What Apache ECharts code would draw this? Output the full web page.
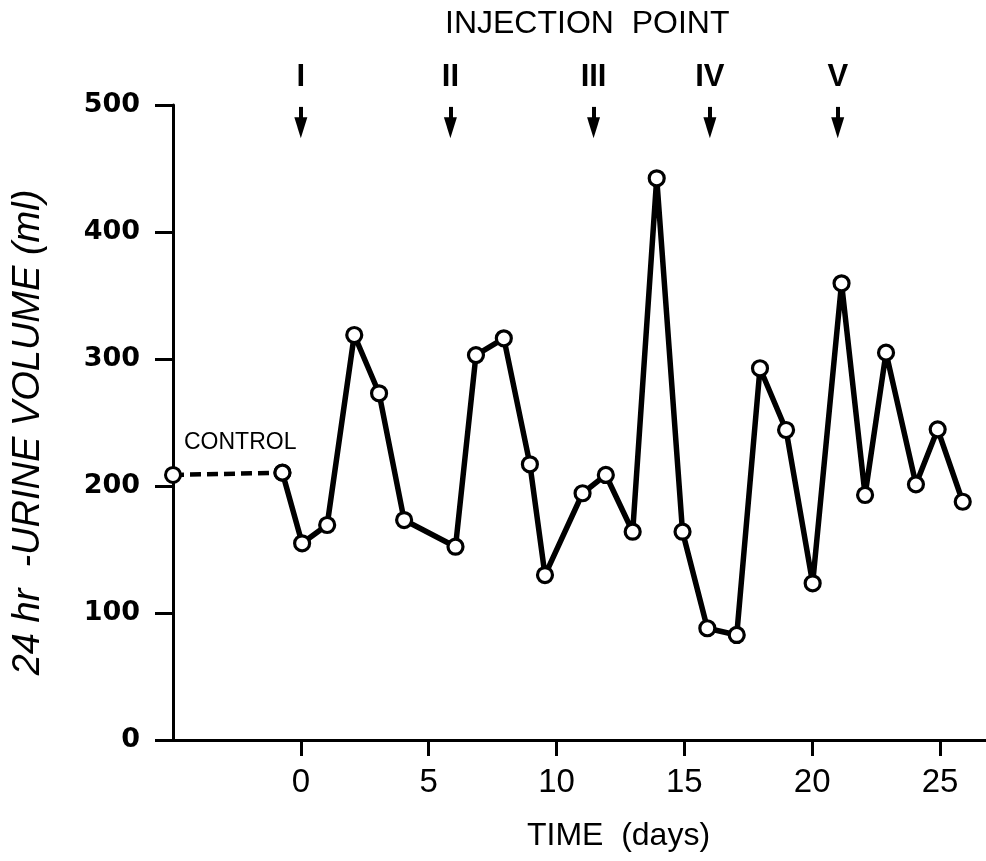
<!DOCTYPE html>
<html>
<head>
<meta charset="utf-8">
<script src="https://cdn.jsdelivr.net/npm/echarts@6/dist/echarts.min.js"></script>
<style>
  html, body { margin: 0; padding: 0; background: #fff; }
  #chart { width: 986px; height: 861px; }
</style>
</head>
<body>
<div id="chart"></div>
<script>
// ---- data ----
const controlDays = [-5.0, -0.72];
const controlValues = [208.7, 210.5];
const days = [-0.72, 0.05, 1.03, 2.09, 3.06, 4.04, 6.05, 6.85, 7.94, 8.96, 9.55, 11.02, 11.93, 12.98, 13.92, 14.93, 15.9, 17.05, 17.96, 18.98, 20.02, 21.15, 22.07, 22.89, 24.06, 24.91, 25.89];
const volumes = [210.5, 154.9, 169.3, 318.9, 273, 173.2, 152.2, 303.1, 316.3, 217.1, 129.9, 194.3, 208.7, 164, 442.3, 164, 88, 82.7, 292.7, 244.1, 123.4, 359.6, 192.9, 305, 201.3, 244.6, 187.6];
const injectionDays = [0, 5.85, 11.45, 16.0, 21.0];
const injectionLabels = ['I', 'II', 'III', 'IV', 'V'];
const xTicks = [0, 5, 10, 15, 20, 25];
const yTicks = [0, 100, 200, 300, 400, 500];

const narrow = '"Liberation Sans Narrow", "Liberation Sans", Arial, sans-serif';
const sans = '"Liberation Sans", Arial, sans-serif';

const chart = echarts.init(document.getElementById('chart'), null, { renderer: 'canvas' });

const arrowHeadValue = 482;
const arrowTopValue = 498.5;

const option = {
  animation: false,
  backgroundColor: '#fff',
  title: {
    text: 'INJECTION  POINT',
    left: 445,
    top: 8,
    padding: 0,
    textStyle: { fontFamily: sans, fontSize: 32, fontWeight: 'normal', color: '#000' }
  },
  grid: { left: 173, right: 0, top: 105, bottom: 121, containLabel: false },
  xAxis: {
    type: 'value',
    min: -5,
    max: 26.8,
    interval: 5,
    name: 'TIME  (days)',
    nameLocation: 'middle',
    nameGap: 80,
    nameTextStyle: { fontFamily: sans, fontSize: 32, color: '#000', padding: [0, 0, 0, 78] },
    axisLine: { show: true, onZero: false, lineStyle: { color: '#000', width: 3 } },
    axisTick: { show: true, customValues: xTicks, length: 16, lineStyle: { color: '#000', width: 3 } },
    axisLabel: { customValues: xTicks, margin: 26, fontFamily: sans, fontSize: 33, color: '#000' },
    splitLine: { show: false }
  },
  yAxis: {
    type: 'value',
    min: 0,
    max: 500,
    interval: 100,
    name: '24 hr  -URINE VOLUME (ml)',
    nameLocation: 'middle',
    nameGap: 126,
    nameTextStyle: { fontFamily: sans, fontSize: 38, fontStyle: 'italic', color: '#000', padding: [0, 20, 0, 0] },
    axisLine: { show: true, onZero: false, lineStyle: { color: '#000', width: 3 } },
    axisTick: { show: true, customValues: yTicks, length: 18, lineStyle: { color: '#000', width: 3 } },
    axisLabel: { customValues: yTicks, margin: 33, fontFamily: '"DejaVu Sans", sans-serif', fontWeight: 'bold', fontSize: 27, color: '#000' },
    splitLine: { show: false }
  },
  series: [
    {
      name: 'Control',
      type: 'line',
      data: controlDays.map((d, i) => [d, controlValues[i]]),
      symbol: 'circle',
      symbolSize: 15,
      lineStyle: { color: '#000', width: 4.5, type: [11, 6] },
      itemStyle: { color: '#fff', borderColor: '#000', borderWidth: 3 },
      label: {
        show: true,
        formatter: (p) => (p.dataIndex === 0 ? 'CONTROL' : ''),
        position: 'right',
        distance: 2,
        offset: [0, -32],
        fontFamily: sans,
        fontSize: 23,
        color: '#000'
      },
      z: 3
    },
    {
      name: 'Urine volume',
      type: 'line',
      data: days.map((d, i) => [d, volumes[i]]),
      symbol: 'circle',
      symbolSize: 15,
      lineStyle: { color: '#000', width: 5.5 },
      itemStyle: { color: '#fff', borderColor: '#000', borderWidth: 3.2 },
      z: 4
    },
    {
      name: 'Injection point',
      type: 'scatter',
      data: injectionDays.map((d, i) => ({ value: [d, arrowHeadValue], name: injectionLabels[i] })),
      symbol: 'triangle',
      symbolRotate: 180,
      symbolSize: [13, 21],
      itemStyle: { color: '#000', opacity: 1 },
      label: {
        show: true,
        position: 'top',
        distance: 24,
        formatter: '{b}',
        fontFamily: narrow,
        fontSize: 31,
        fontWeight: 'bold',
        color: '#000',
        opacity: 1
      },
      markLine: {
        silent: true,
        symbol: ['none', 'none'],
        label: { show: false },
        lineStyle: { color: '#000', width: 4, type: 'solid', opacity: 1 },
        emphasis: { disabled: true },
        data: injectionDays.map((d) => [{ coord: [d, arrowTopValue] }, { coord: [d, arrowHeadValue] }])
      },
      z: 5
    }
  ]
};

chart.setOption(option);
</script>
</body>
</html>
